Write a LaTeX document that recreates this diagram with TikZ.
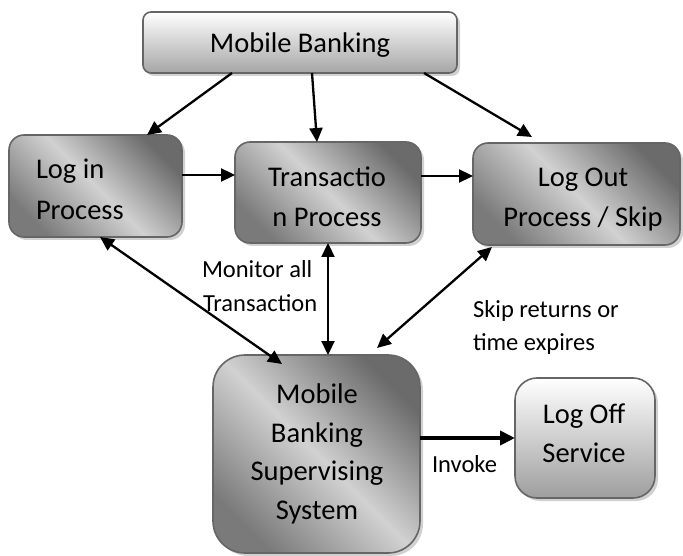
\documentclass[tikz,border=0pt]{standalone}
\usepackage{fontspec}
\setmainfont{Carlito}
\usetikzlibrary{arrows.meta,shadows,calc}
\begin{document}
\begin{tikzpicture}[x=1pt,y=-1pt,
  every node/.style={inner sep=0pt,outer sep=0pt},
  boxbase/.style={draw=black!60,line width=1.6pt,
    drop shadow={shadow xshift=3pt,shadow yshift=-3pt,fill=black!30,opacity=0.6}},
  procbox/.style={boxbase,rounded corners=15pt,
    top color=black!58,bottom color=black!52,middle color=black!18,shading angle=-45},
  supbox/.style={boxbase,rounded corners=32pt,
    top color=black!58,bottom color=black!52,middle color=black!18,shading angle=-45},
  topbox/.style={boxbase,rounded corners=8pt,top color=white,bottom color=black!35},
  offbox/.style={boxbase,rounded corners=22pt,top color=white,bottom color=black!38},
  bigtxt/.style={font=\fontsize{28.5}{34}\selectfont,anchor=base},
  smalltxt/.style={font=\fontsize{24.5}{30}\selectfont,anchor=base west},
  arr/.style={line width=2.3pt,-{Triangle[length=14pt,width=13pt]}},
  darr/.style={line width=2.3pt,{Triangle[length=14pt,width=13pt]}-{Triangle[length=14pt,width=13pt]}},
  thickarr/.style={line width=4pt,-{Triangle[length=15pt,width=14pt]}}]
\useasboundingbox (0,0) rectangle (683,556);

% boxes
\node[topbox,minimum width=314pt,minimum height=61pt] (mb) at (300,42.5) {};
\node[procbox,minimum width=173pt,minimum height=102pt] (login) at (95.5,186) {};
\node[procbox,minimum width=186pt,minimum height=101pt] (trans) at (328,192.5) {};
\node[procbox,minimum width=207pt,minimum height=102pt] (logout) at (576.5,194) {};
\node[supbox,minimum width=207pt,minimum height=198pt] (sup) at (316.5,454) {};
\node[offbox,minimum width=140pt,minimum height=120pt] (logoff) at (585,438) {};

% texts
\node[bigtxt] (tmb) at (300,53) {Mobile Banking};
\node[bigtxt,anchor=base west] (tli1) at (36,179) {Log in};
\node[bigtxt,anchor=base west] (tli2) at (36,220) {Process};
\node[bigtxt] (ttr1) at (327,187) {Transactio};
\node[bigtxt] (ttr2) at (327,227) {n Process};
\node[bigtxt] (tlo1) at (583,187) {Log Out};
\node[bigtxt] (tlo2) at (583,227) {Process / Skip};
\node[bigtxt] (ts1) at (317,403) {Mobile};
\node[bigtxt] (ts2) at (317,442) {Banking};
\node[bigtxt] (ts3) at (317,480) {Supervising};
\node[bigtxt] (ts4) at (317,519) {System};
\node[bigtxt] (tlf1) at (584,423) {Log Off};
\node[bigtxt] (tlf2) at (584,462) {Service};
\node[smalltxt] (lm1) at (202,277) {Monitor all};
\node[smalltxt] (lm2) at (203,311) {Transaction};
\node[smalltxt] (ls1) at (473,317) {Skip returns or};
\node[smalltxt] (ls2) at (473,350) {time expires};
\node[smalltxt] (linv) at (432,472) {Invoke};

% free ends
\coordinate (s1) at (282,364);
\coordinate (s3) at (377,348);
\coordinate (o3) at (492,247);

% connectors
\draw[arr] (232,0 |- mb.south) -- (147,0 |- login.north);
\draw[arr] (312,0 |- mb.south) -- (317,0 |- trans.north);
\draw[arr] (424,0 |- mb.south) -- (532,137);
\draw[arr] (login.east |- 0,175) -- (trans.west |- 0,175);
\draw[arr] (trans.east |- 0,176) -- (logout.west |- 0,176);
\draw[darr] (100,0 |- login.south) -- (s1);
\draw[darr] (328,0 |- trans.south) -- (328,0 |- sup.north);
\draw[darr] (o3) -- (s3);
\draw[thickarr] (sup.east |- 0,438) -- (logoff.west |- 0,438);
\end{tikzpicture}
\end{document}
